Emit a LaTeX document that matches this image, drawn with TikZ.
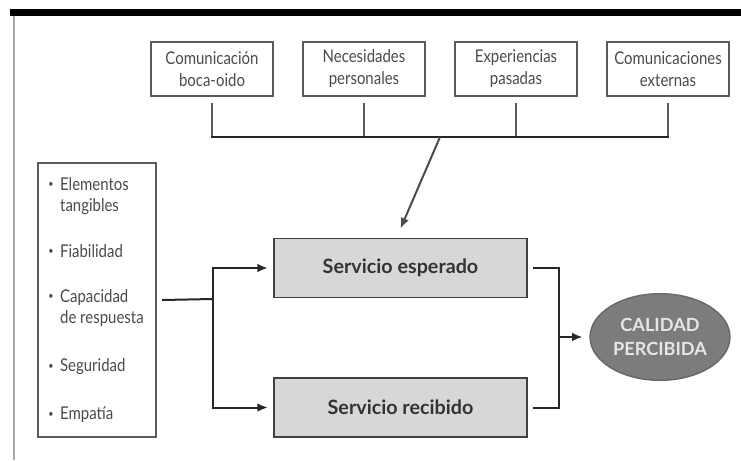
\documentclass[tikz,border=0pt]{standalone}
\usepackage{fontspec}
\setmainfont{Lato}
\newfontfamily\condfont[FakeStretch=0.85]{Lato}
\usetikzlibrary{shapes.geometric,arrows.meta}
\definecolor{txtgray}{HTML}{4A4A4A}
\definecolor{boxline}{HTML}{5A5A5A}
\definecolor{servfill}{HTML}{D5D7D9}
\definecolor{ellfill}{HTML}{7C7C7C}
\definecolor{elltext}{HTML}{E6E6E6}
\definecolor{railgray}{HTML}{A8A8A8}
\newcommand{\smallbul}{\raisebox{0.15em}{\scalebox{0.6}{•}}}
\tikzset{
  topbox/.style={draw=boxline,line width=1.1pt,minimum width=91.5pt,minimum height=40.5pt,
    align=center,inner sep=2pt,text=txtgray,font=\condfont\fontsize{13.2}{16.5}\selectfont},
  listbox/.style={draw=boxline,line width=1.1pt,minimum width=88.5pt,minimum height=205.5pt,inner sep=0pt},
  item/.style={anchor=west,inner sep=0pt,text=txtgray,font=\condfont\fontsize{13.2}{16}\selectfont},
  servbox/.style={draw=black!75,fill=servfill,line width=1.1pt,minimum width=189.75pt,minimum height=44pt,
    text=black!80,font=\fontsize{14.8}{16}\selectfont\bfseries},
  result/.style={ellipse,draw=black!60,fill=ellfill,line width=1pt,minimum width=105pt,minimum height=65pt,
    inner sep=0pt,align=center,text=elltext,font=\fontsize{13.6}{18.5}\selectfont\bfseries},
  conn/.style={line width=1.5pt,draw=black!85},
  stub/.style={line width=1.5pt,draw=black!65},
  tip/.style={-{Latex[length=8pt,width=6.5pt]}},
}
\begin{document}
\begin{tikzpicture}[x=0.75pt,y=-0.75pt]
\useasboundingbox (0,0) rectangle (741,460);
% frame
\fill[black] (10,9) rectangle (741,16);
\draw[railgray,line width=2.2pt] (14,16) -- (14,460);
% top boxes
\node[topbox] (b1) at (212,69) {Comunicación\\boca-oido};
\node[topbox] (b2) at (364,69) {Necesidades\\personales};
\node[topbox] (b3) at (516,69) {Experiencias\\pasadas};
\node[topbox] (b4) at (668,69) {Comunicaciones\\externas};
\coordinate (bus1) at (212,137);
\coordinate (bus4) at (668,137);
\coordinate (busmid) at (440,137);
\foreach \b in {b1,b2,b3,b4}
  \draw[stub] ([yshift=-5pt]\b.south) -- (\b.south |- bus1);
\draw[conn] ([xshift=-0.75pt]bus1) -- ([xshift=0.75pt]bus4);
% left list
\node[listbox] (lb) at (97,300) {};
\node[item] (i1) at (48,197) {\begin{tabular}{@{}l@{\hspace{5pt}}l@{}}\smallbul&Elementos\\&tangibles\end{tabular}};
\node[item] (i2) at (48,251) {\smallbul\hspace{5pt}Fiabilidad};
\node[item] (i3) at (48,309) {\begin{tabular}{@{}l@{\hspace{5pt}}l@{}}\smallbul&Capacidad\\&de respuesta\end{tabular}};
\node[item] (i4) at (48,367) {\smallbul\hspace{5pt}Seguridad};
\node[item] (i5) at (48,415) {\smallbul\hspace{5pt}Empatía};
% service boxes
\node[servbox] (esp) at (400.5,268) {Servicio esperado};
\node[servbox] (rec) at (400.5,407.5) {Servicio recibido};
% result
\node[result] (cal) at (660,337) {CALIDAD\\PERCIBIDA};
% connectors
\draw[line width=1.5pt,draw=black!70,tip] (busmid) -- ([yshift=7pt]esp.north);
\coordinate (jl) at (213,299);
\draw[conn] ([xshift=4pt]lb.east) -- (jl);
\draw[conn,tip] (jl) |- ([xshift=-4pt]esp.west);
\draw[conn,tip] (jl) |- ([xshift=-4pt]rec.west);
\coordinate (jr) at (559,337);
\draw[conn] ([xshift=4pt]esp.east) -| (jr);
\draw[conn] ([xshift=4pt]rec.east) -| (jr);
\draw[conn,tip,shorten >=5pt] (jr) -- (cal.west);
\end{tikzpicture}
\end{document}
